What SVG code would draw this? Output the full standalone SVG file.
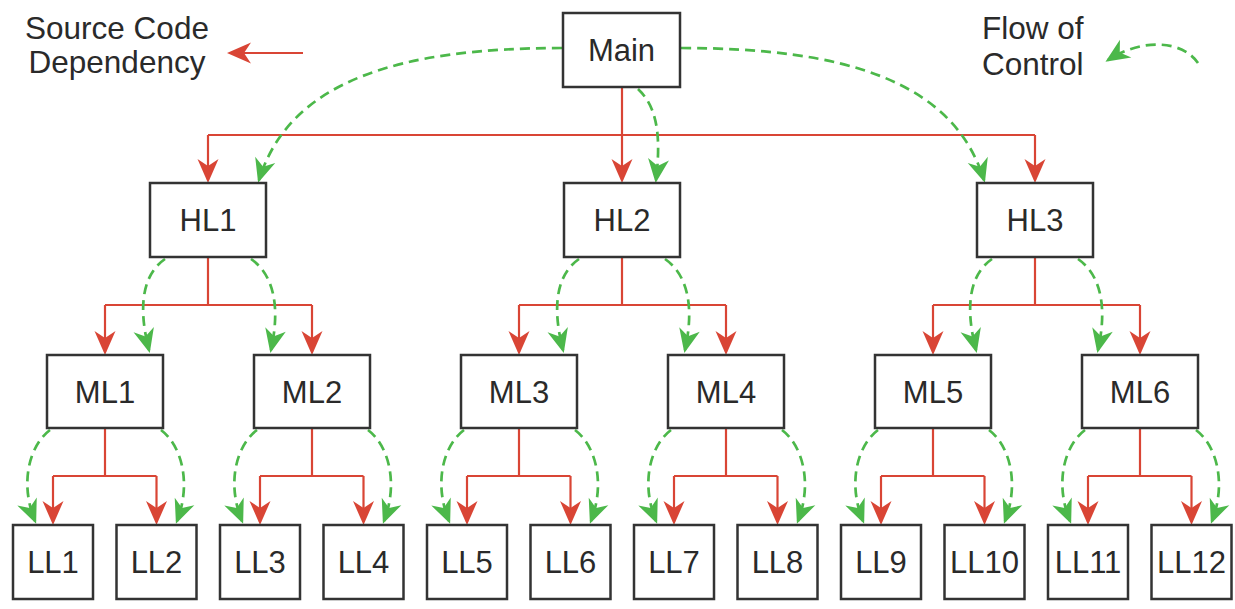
<svg xmlns="http://www.w3.org/2000/svg" width="1235" height="609" viewBox="0 0 1235 609">
<style>
.box{fill:#fff;stroke:#333;stroke-width:2.5}
.lbl{font-family:"Liberation Sans",Arial,sans-serif;font-size:31px;fill:#2a2a2a;text-anchor:middle}
.leg{font-family:"Liberation Sans",Arial,sans-serif;font-size:31.5px;fill:#2a2a2a}
.red{fill:none;stroke:#d94535;stroke-width:2.2}
.redA{fill:none;stroke:#d94535;stroke-width:2.2;marker-end:url(#ar)}
.grn{fill:none;stroke:#4cb84a;stroke-width:2.7;stroke-dasharray:10 6;marker-end:url(#ag)}
</style>
<defs>
<marker id="ar" markerUnits="userSpaceOnUse" viewBox="-26 -13 30 26" refX="0" refY="0" markerWidth="30" markerHeight="26" orient="auto" overflow="visible">
<path d="M3,0 L-21,-10.5 L-14,0 L-21,10.5 Z" fill="#d94535"/>
</marker>
<marker id="ag" markerUnits="userSpaceOnUse" viewBox="-26 -13 30 26" refX="0" refY="0" markerWidth="30" markerHeight="26" orient="auto" overflow="visible">
<path d="M3,0 L-21,-10.5 L-14,0 L-21,10.5 Z" fill="#4cb84a"/>
</marker>
</defs>
<rect width="1235" height="609" fill="#fff"/>

<g id="legend">
<text class="leg" x="117" y="39" text-anchor="middle">Source Code</text>
<text class="leg" x="117" y="73" text-anchor="middle">Dependency</text>
<path class="redA" d="M303,53 H230"/>
<text class="leg" x="982" y="39">Flow of</text>
<text class="leg" x="982" y="75">Control</text>
<path class="grn" d="M1198,63 C1182,40 1142,38 1108,60"/>
</g>

<g id="connectors">
<path class="redA" d="M622,87 V180"/>
<path class="red" d="M208,135 H1035"/>
<path class="redA" d="M208,135 V180"/>
<path class="redA" d="M1035,135 V180"/>
<path class="red" d="M208,257 V305 M105,305 H312"/>
<path class="redA" d="M105,305 V352"/>
<path class="redA" d="M312,305 V352"/>
<path class="red" d="M622,257 V305 M519,305 H726"/>
<path class="redA" d="M519,305 V352"/>
<path class="redA" d="M726,305 V352"/>
<path class="red" d="M1035,257 V305 M933,305 H1140"/>
<path class="redA" d="M933,305 V352"/>
<path class="redA" d="M1140,305 V352"/>
<path class="red" d="M105,428 V476 M53,476 H156.5"/>
<path class="redA" d="M53,476 V522"/>
<path class="redA" d="M156.5,476 V522"/>
<path class="red" d="M312,428 V476 M260,476 H363.5"/>
<path class="redA" d="M260,476 V522"/>
<path class="redA" d="M363.5,476 V522"/>
<path class="red" d="M519,428 V476 M467,476 H570.5"/>
<path class="redA" d="M467,476 V522"/>
<path class="redA" d="M570.5,476 V522"/>
<path class="red" d="M726,428 V476 M674,476 H777.5"/>
<path class="redA" d="M674,476 V522"/>
<path class="redA" d="M777.5,476 V522"/>
<path class="red" d="M933,428 V476 M881,476 H984.5"/>
<path class="redA" d="M881,476 V522"/>
<path class="redA" d="M984.5,476 V522"/>
<path class="red" d="M1140,428 V476 M1088,476 H1191.5"/>
<path class="redA" d="M1088,476 V522"/>
<path class="redA" d="M1191.5,476 V522"/>

<path class="grn" d="M562,48 C400,48 290,80 259,180"/>
<path class="grn" d="M681,48 C843,48 953,80 984,180"/>
<path class="grn" d="M638,89 C655,105 662,130 656,180"/>
<path class="grn" d="M165,259 C146,272 136,300 149,350"/>
<path class="grn" d="M251,259 C270,272 282,300 271,350"/>
<path class="grn" d="M579,259 C560,272 550,300 563,350"/>
<path class="grn" d="M665,259 C684,272 696,300 685,350"/>
<path class="grn" d="M992,259 C973,272 963,300 976,350"/>
<path class="grn" d="M1078,259 C1097,272 1109,300 1098,350"/>
<path class="grn" d="M50,430 C30,445 19,482 35,521"/>
<path class="grn" d="M161,430 C181,445 192,482 177,521"/>
<path class="grn" d="M257,430 C237,445 226,482 242,521"/>
<path class="grn" d="M368,430 C388,445 399,482 384,521"/>
<path class="grn" d="M464,430 C444,445 433,482 449,521"/>
<path class="grn" d="M575,430 C595,445 606,482 591,521"/>
<path class="grn" d="M671,430 C651,445 640,482 656,521"/>
<path class="grn" d="M782,430 C802,445 813,482 798,521"/>
<path class="grn" d="M878,430 C858,445 847,482 863,521"/>
<path class="grn" d="M989,430 C1009,445 1020,482 1005,521"/>
<path class="grn" d="M1085,430 C1065,445 1054,482 1070,521"/>
<path class="grn" d="M1196,430 C1216,445 1227,482 1212,521"/>
</g>

<g id="Main"><rect class="box" x="563" y="13" width="117" height="74"/><text class="lbl" x="621.5" y="61">Main</text></g>
<g id="HL1"><rect class="box" x="150" y="183" width="116" height="74"/><text class="lbl" x="208" y="231">HL1</text></g>
<g id="HL2"><rect class="box" x="564" y="183" width="116" height="74"/><text class="lbl" x="622" y="231">HL2</text></g>
<g id="HL3"><rect class="box" x="977" y="183" width="116" height="74"/><text class="lbl" x="1035" y="231">HL3</text></g>

<g id="ML1"><rect class="box" x="47" y="355" width="116" height="73"/><text class="lbl" x="105" y="402.5">ML1</text></g>
<g id="ML2"><rect class="box" x="254" y="355" width="116" height="73"/><text class="lbl" x="312" y="402.5">ML2</text></g>
<g id="ML3"><rect class="box" x="461" y="355" width="116" height="73"/><text class="lbl" x="519" y="402.5">ML3</text></g>
<g id="ML4"><rect class="box" x="668" y="355" width="116" height="73"/><text class="lbl" x="726" y="402.5">ML4</text></g>
<g id="ML5"><rect class="box" x="875" y="355" width="116" height="73"/><text class="lbl" x="933" y="402.5">ML5</text></g>
<g id="ML6"><rect class="box" x="1082" y="355" width="116" height="73"/><text class="lbl" x="1140" y="402.5">ML6</text></g>

<g id="LL1"><rect class="box" x="13" y="525" width="80" height="74"/><text class="lbl" x="53" y="573">LL1</text></g>
<g id="LL2"><rect class="box" x="116.5" y="525" width="80" height="74"/><text class="lbl" x="156.5" y="573">LL2</text></g>
<g id="LL3"><rect class="box" x="220" y="525" width="80" height="74"/><text class="lbl" x="260" y="573">LL3</text></g>
<g id="LL4"><rect class="box" x="323.5" y="525" width="80" height="74"/><text class="lbl" x="363.5" y="573">LL4</text></g>
<g id="LL5"><rect class="box" x="427" y="525" width="80" height="74"/><text class="lbl" x="467" y="573">LL5</text></g>
<g id="LL6"><rect class="box" x="530.5" y="525" width="80" height="74"/><text class="lbl" x="570.5" y="573">LL6</text></g>
<g id="LL7"><rect class="box" x="634" y="525" width="80" height="74"/><text class="lbl" x="674" y="573">LL7</text></g>
<g id="LL8"><rect class="box" x="737.5" y="525" width="80" height="74"/><text class="lbl" x="777.5" y="573">LL8</text></g>
<g id="LL9"><rect class="box" x="841" y="525" width="80" height="74"/><text class="lbl" x="881" y="573">LL9</text></g>
<g id="LL10"><rect class="box" x="944.5" y="525" width="80" height="74"/><text class="lbl" x="984.5" y="573">LL10</text></g>
<g id="LL11"><rect class="box" x="1048" y="525" width="80" height="74"/><text class="lbl" x="1088" y="573">LL11</text></g>
<g id="LL12"><rect class="box" x="1151.5" y="525" width="80" height="74"/><text class="lbl" x="1191.5" y="573">LL12</text></g>
</svg>
